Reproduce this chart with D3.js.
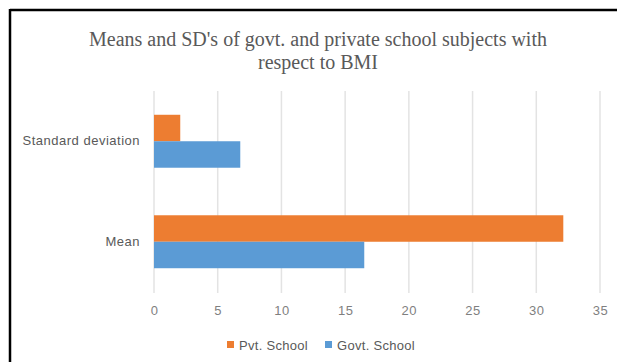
<!DOCTYPE html>
<html><head><meta charset="utf-8">
<script src="https://cdn.jsdelivr.net/npm/d3@7"></script>
<style>html,body{margin:0;padding:0;background:#fff;}svg{display:block;}</style>
</head><body>
<svg id="c" width="617" height="362"></svg>
<script>
const categories = ["Standard deviation", "Mean"];
const seriesNames = ["Pvt. School", "Govt. School"];
const pvtValues = [2.06, 32.12];
const govtValues = [6.77, 16.5];
const xTicks = [0, 5, 10, 15, 20, 25, 30, 35];
const colors = ["#ED7D31", "#5B9BD5"];

const svg = d3.select("#c");
svg.append("rect").attr("x", 0).attr("y", 0).attr("width", 617).attr("height", 362).attr("fill", "#fff");
svg.append("line").attr("x1", 10).attr("x2", 617).attr("y1", 10).attr("y2", 10).attr("stroke", "#000").attr("stroke-width", 2.5);
svg.append("line").attr("x1", 10).attr("x2", 10).attr("y1", 9).attr("y2", 362).attr("stroke", "#000").attr("stroke-width", 2.5);

const title = svg.append("text").attr("text-anchor", "middle").attr("font-family", "Liberation Serif, Times New Roman, serif")
  .attr("font-size", 20).attr("fill", "#595959");
title.append("tspan").attr("x", 318).attr("y", 46).text("Means and SD's of govt. and private school subjects with");
title.append("tspan").attr("x", 318).attr("y", 69).text("respect to BMI");

const x = d3.scaleLinear().domain([0, 35]).range([154, 600]);
const y = d3.scaleBand().domain(categories).range([91, 292]).paddingInner(0.473).paddingOuter(0.2365);
const ys = d3.scaleBand().domain(seriesNames).range([0, y.bandwidth()]);

svg.append("g").selectAll("line").data(xTicks).join("line")
  .attr("x1", d => x(d)).attr("x2", d => x(d)).attr("y1", 91).attr("y2", 293)
  .attr("stroke", "#e3e3e3").attr("stroke-width", 1.5);

const data = categories.map((c, i) => ({cat: c, vals: [pvtValues[i], govtValues[i]]}));
const g = svg.append("g");
data.forEach(d => {
  d.vals.forEach((v, j) => {
    g.append("rect").attr("x", x(0)).attr("y", y(d.cat) + ys(seriesNames[j]))
      .attr("width", x(v) - x(0)).attr("height", ys.bandwidth()).attr("fill", colors[j]);
  });
});

const xAxis = d3.axisBottom(x).tickValues(xTicks).tickSize(0).tickPadding(0);
const xa = svg.append("g").attr("transform", "translate(0,306)").call(xAxis);
xa.select(".domain").remove();
xa.selectAll("text").attr("font-family", "Liberation Sans, Arial, sans-serif").attr("font-size", 13)
  .attr("letter-spacing", 0.5).attr("fill", "#7f7f7f").attr("dy", "0.71em");

const yAxis = d3.axisLeft(y).tickSize(0).tickPadding(0);
const ya = svg.append("g").attr("transform", "translate(140,0)").call(yAxis);
ya.select(".domain").remove();
ya.selectAll("text").attr("font-family", "Liberation Sans, Arial, sans-serif").attr("font-size", 13)
  .attr("letter-spacing", 0.5).attr("fill", "#595959");

const legendX = [227, 325];
const lg = svg.append("g");
seriesNames.forEach((s, i) => {
  lg.append("rect").attr("x", legendX[i]).attr("y", 341).attr("width", 7).attr("height", 7).attr("fill", colors[i]);
  lg.append("text").attr("x", legendX[i] + 12).attr("y", 350).attr("font-family", "Liberation Sans, Arial, sans-serif")
    .attr("font-size", 13).attr("letter-spacing", 0.3).attr("fill", "#595959").text(s);
});
</script>
</body></html>
